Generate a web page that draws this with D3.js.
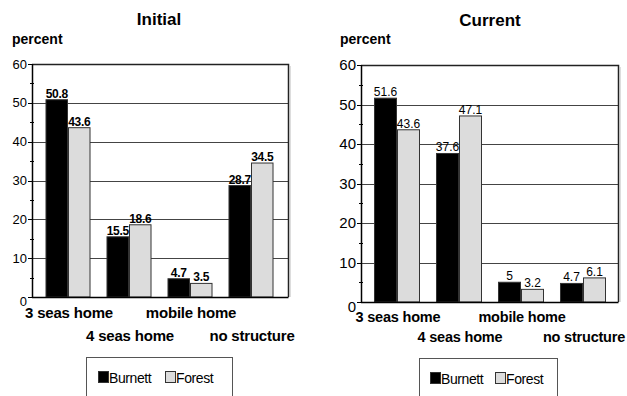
<!DOCTYPE html>
<html>
<head>
<meta charset="utf-8">
<script src="https://cdn.jsdelivr.net/npm/d3@7"></script>
<style>
  html, body { margin: 0; padding: 0; background: #fff; }
  svg { display: block; font-family: "Liberation Sans", Arial, sans-serif; }
</style>
</head>
<body>
<svg id="chart" width="627" height="396"></svg>
<script>
// Dwelling type shares, two survey periods
const categories = ["3 seas home", "4 seas home", "mobile home", "no structure"];
const seriesNames = ["Burnett", "Forest"];
const initialBurnett = [50.8, 15.5, 4.7, 28.7];
const initialForest  = [43.6, 18.6, 3.5, 34.5];
const currentBurnett = [51.6, 37.6, 5, 4.7];
const currentForest  = [43.6, 47.1, 3.2, 6.1];
const yTicks = [0, 10, 20, 30, 40, 50, 60];
const yMinorTicks = [5, 15, 25, 35, 45, 55];

const seriesFill = { Burnett: "#000000", Forest: "#dcdcdc" };

const svg = d3.select("#chart");

function drawPanel(cfg) {
  const g = svg.append("g");
  const y = d3.scaleLinear().domain([0, 60]).range([cfg.bottom, cfg.top]);
  const x0 = d3.scaleBand().domain(categories)
    .range(cfg.bandRange).paddingInner(cfg.pad).paddingOuter(cfg.pad / 2);
  const x1 = d3.scaleBand().domain(seriesNames).range([0, x0.bandwidth()]);

  // title and unit label
  g.append("text").attr("x", cfg.titleX).attr("y", cfg.titleY)
    .attr("text-anchor", "middle").attr("font-weight", "bold")
    .attr("font-size", 17).text(cfg.title);
  g.append("text").attr("x", cfg.unitX).attr("y", 44)
    .attr("font-weight", "bold").attr("font-size", 14).text("percent");

  // gridlines
  g.selectAll(".grid").data(yTicks.filter(t => t > 0 && t < 60)).join("line")
    .attr("x1", cfg.left).attr("x2", cfg.right)
    .attr("y1", d => Math.round(y(d)) + 0.5).attr("y2", d => Math.round(y(d)) + 0.5)
    .attr("stroke", "#444").attr("stroke-width", 1);

  // frame: top and right edges
  g.append("path")
    .attr("d", `M${cfg.left},${Math.round(y(60)) + 0.5}H${cfg.right + 0.5}V${cfg.bottom}`)
    .attr("fill", "none").attr("stroke", "#222").attr("stroke-width", 1.5);
  g.append("line")
    .attr("x1", cfg.right + 2).attr("x2", cfg.right + 2)
    .attr("y1", y(60) + 2).attr("y2", cfg.bottom)
    .attr("stroke", "#bbb").attr("stroke-width", 1);

  // bars
  const rows = categories.map((c, i) => ({ cat: c, vals: [cfg.a[i], cfg.b[i]] }));
  const grp = g.selectAll(".grp").data(rows).join("g")
    .attr("transform", d => `translate(${x0(d.cat)},0)`);
  grp.selectAll("rect").data(d => d.vals.map((v, k) => ({ s: seriesNames[k], v }))).join("rect")
    .attr("x", d => x1(d.s) + 0.5)
    .attr("y", d => y(d.v))
    .attr("width", x1.bandwidth() - 1)
    .attr("height", d => cfg.bottom - y(d.v))
    .attr("fill", d => seriesFill[d.s])
    .attr("stroke", "#333").attr("stroke-width", 1);
  grp.selectAll("text").data(d => d.vals.map((v, k) => ({ s: seriesNames[k], v }))).join("text")
    .attr("x", d => x1(d.s) + x1.bandwidth() / 2)
    .attr("y", d => y(d.v) - 2)
    .attr("text-anchor", "middle")
    .attr("font-size", cfg.valueSize)
    .attr("font-weight", cfg.valueBold ? "bold" : "normal")
    .attr("letter-spacing", cfg.valueBold ? -0.3 : 0)
    .text(d => d.v);

  // y axis line, ticks, labels
  g.append("line").attr("x1", cfg.left + 0.5).attr("x2", cfg.left + 0.5)
    .attr("y1", y(60)).attr("y2", cfg.bottom + 0.5)
    .attr("stroke", "#000").attr("stroke-width", 1.5);
  g.append("line").attr("x1", cfg.left).attr("x2", cfg.right + 0.5)
    .attr("y1", cfg.bottom + 0.5).attr("y2", cfg.bottom + 0.5)
    .attr("stroke", "#000").attr("stroke-width", 1.5);
  g.selectAll(".maj").data(yTicks).join("line")
    .attr("x1", cfg.left - 4).attr("x2", cfg.left)
    .attr("y1", d => Math.round(y(d)) + 0.5).attr("y2", d => Math.round(y(d)) + 0.5)
    .attr("stroke", "#000");
  g.selectAll(".min").data(yMinorTicks).join("line")
    .attr("x1", cfg.left - 2).attr("x2", cfg.left + 2)
    .attr("y1", d => Math.round(y(d)) + 0.5).attr("y2", d => Math.round(y(d)) + 0.5)
    .attr("stroke", "#000");
  g.selectAll(".tl").data(yTicks).join("text")
    .attr("x", cfg.left - 5)
    .attr("y", d => y(d) + (d === 0 ? cfg.zeroDrop : 0))
    .attr("dy", "0.35em")
    .attr("text-anchor", "end")
    .attr("font-size", cfg.tickSize)
    .text(d => d);

  // staggered category labels
  g.selectAll(".cat").data(categories).join("text")
    .attr("x", d => x0(d) + x0.bandwidth() / 2 + 1)
    .attr("y", (d, i) => i % 2 === 0 ? cfg.catY1 : cfg.catY2)
    .attr("text-anchor", "middle")
    .attr("font-weight", "bold")
    .attr("font-size", cfg.catSize)
    .attr("letter-spacing", -0.2)
    .text(d => d);

  // legend
  const lg = g.append("g");
  lg.append("rect").attr("x", cfg.legX + 0.5).attr("y", cfg.legY + 0.5)
    .attr("width", cfg.legW).attr("height", 60)
    .attr("fill", "#fff").attr("stroke", "#555");
  const items = lg.selectAll(".li").data(seriesNames).join("g")
    .attr("transform", (d, i) => `translate(${cfg.legItemX[i]},${cfg.legY + 14})`);
  items.append("rect").attr("x", 0.5).attr("y", 0.5).attr("width", 10).attr("height", 11)
    .attr("fill", d => seriesFill[d]).attr("stroke", "#333");
  items.append("text").attr("x", 11).attr("y", 12)
    .attr("font-size", 14).attr("letter-spacing", -0.4).text(d => d);
}

drawPanel({
  title: "Initial", titleX: 159, titleY: 25, unitX: 12,
  left: 32, right: 288, top: 64, bottom: 297,
  bandRange: [37.5, 281.5], pad: 0.262,
  a: initialBurnett, b: initialForest,
  valueSize: 12, valueBold: true,
  tickSize: 13, zeroDrop: 4,
  catSize: 15, catY1: 318, catY2: 341,
  legX: 86, legY: 357, legW: 146, legItemX: [98, 165]
});

drawPanel({
  title: "Current", titleX: 490, titleY: 26, unitX: 340,
  left: 361, right: 618, top: 65, bottom: 302,
  bandRange: [366, 614], pad: 0.258,
  a: currentBurnett, b: currentForest,
  valueSize: 12, valueBold: false,
  tickSize: 15, zeroDrop: 5,
  catSize: 14.5, catY1: 322, catY2: 342,
  legX: 419, legY: 358, legW: 138, legItemX: [430, 495]
});
</script>
</body>
</html>
